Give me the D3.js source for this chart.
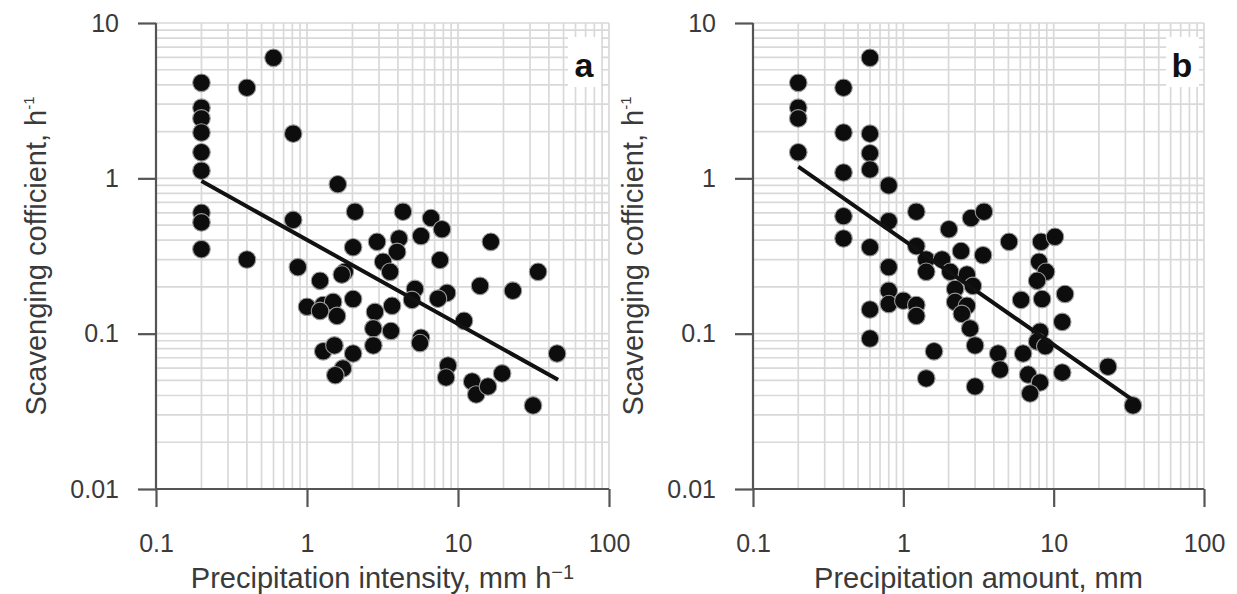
<!DOCTYPE html>
<html><head><meta charset="utf-8">
<script src="https://cdn.jsdelivr.net/npm/d3@7"></script>
<style>body{margin:0;background:#fff;}svg{display:block;font-family:"Liberation Sans",Arial,sans-serif;}</style>
</head><body>
<script>
// Panel a: precipitation intensity (mm h-1) vs scavenging coefficient (h-1)
const aX = [0.2,0.2,0.2,0.2,0.2,0.2,0.2,0.2,0.2,
  0.6,0.4,0.81,1.6,2.08,0.81,2.91,2.02,0.4,
  0.87,1.22,1.78,1.7,1.0,1.28,1.49,1.58,1.22,2.02,2.82,2.75,2.75,1.28,1.52,2.02,1.73,1.54,
  4.32,6.63,7.83,4.07,5.69,16.5,3.95,3.19,3.55,7.6,33.9,14.0,23.1,5.19,4.96,8.46,7.37,3.66,3.6,5.69,5.6,10.96,45.3,8.59,8.33,12.4,13.2,15.8,19.6,31.4];
const aY = [4.12,2.85,2.43,1.97,1.47,1.12,0.6,0.52,0.35,
  5.97,3.83,1.94,0.916,0.61,0.54,0.39,0.36,0.30,
  0.268,0.219,0.25,0.24,0.149,0.153,0.16,0.13,0.14,0.167,0.138,0.108,0.084,0.077,0.084,0.0745,0.0597,0.054,
  0.61,0.555,0.47,0.41,0.425,0.39,0.336,0.29,0.25,0.298,0.25,0.203,0.189,0.194,0.165,0.183,0.168,0.151,0.104,0.094,0.087,0.121,0.0745,0.0624,0.0522,0.0492,0.0406,0.0457,0.0555,0.0345];
// Panel b: precipitation amount (mm) vs scavenging coefficient (h-1)
const bX = [0.2,0.2,0.2,0.2,
  0.4,0.4,0.4,0.4,0.4,
  0.6,0.6,0.6,0.6,0.6,0.6,0.6,
  0.8,0.8,0.8,0.8,0.8,
  1.22,1.22,1.0,1.22,1.22,
  1.42,1.42,1.81,2.05,2.01,2.42,2.65,2.21,2.21,2.65,2.45,2.78,3.0,1.6,1.42,3.0,
  2.82,3.44,5.05,8.24,10.2,3.39,2.9,
  8.0,8.9,7.76,6.07,8.37,11.9,11.4,8.12,7.76,8.8,4.27,6.26,4.4,6.76,8.12,6.97,11.4,23.0,33.7];
const bY = [4.12,2.85,2.43,1.47,
  3.83,1.97,1.09,0.57,0.41,
  5.97,1.94,1.45,1.14,0.36,0.143,0.093,
  0.90,0.53,0.268,0.189,0.155,
  0.61,0.366,0.163,0.153,0.130,
  0.30,0.25,0.30,0.25,0.47,0.34,0.24,0.194,0.16,0.151,0.134,0.108,0.084,0.077,0.0515,0.0457,
  0.555,0.61,0.39,0.39,0.42,0.32,0.203,
  0.29,0.25,0.219,0.165,0.167,0.18,0.119,0.103,0.089,0.083,0.0745,0.0745,0.0587,0.0545,0.0485,0.0412,0.0562,0.0613,0.0345];
// Fitted lines (end points)
const fitAX = [0.2, 46], fitAY = [0.96, 0.0505];
const fitBX = [0.2, 33.7], fitBY = [1.19, 0.0373];
const xTicks = [0.1, 1, 10, 100];
const xTickLabels = ["0.1", "1", "10", "100"];
const yTicks = [0.01, 0.1, 1, 10];
const yTickLabels = ["0.01", "0.1", "1", "10"];

const W = 1237, H = 594;
const svg = d3.select("body").append("svg").attr("width", W).attr("height", H);

function minorVals(lo, hi) {
  const out = [];
  for (let e = Math.log10(lo); e < Math.log10(hi); e++) {
    for (let k = 1; k <= 9; k++) out.push(k * Math.pow(10, e));
  }
  out.push(hi);
  return out;
}

function panel(o) {
  const x = d3.scaleLog().domain([0.1, 100]).range([o.x0, o.x1]);
  const y = d3.scaleLog().domain([0.01, 10]).range([489, 23]);
  const g = svg.append("g");
  const grid = g.append("g").attr("stroke", "#d9d9d9").attr("stroke-width", 1.7);
  minorVals(0.1, 100).forEach(v => {
    grid.append("line").attr("x1", x(v)).attr("x2", x(v)).attr("y1", y(10)).attr("y2", y(0.01));
  });
  minorVals(0.01, 10).forEach(v => {
    grid.append("line").attr("x1", x(0.1)).attr("x2", x(100)).attr("y1", y(v)).attr("y2", y(v));
  });
  // label box
  g.append("rect").attr("x", o.lx - 16).attr("y", 37).attr("width", 33).attr("height", 50).attr("fill", "#fff");
  g.append("text").attr("x", o.lx).attr("y", 77).attr("text-anchor", "middle")
    .attr("font-size", 34).attr("font-weight", "bold").attr("fill", "#111").text(o.label);

  // axes
  const xAxis = d3.axisBottom(x).tickValues(xTicks).tickFormat((d, i) => xTickLabels[i]).tickSize(18).tickPadding(27);
  const gx = g.append("g").attr("transform", "translate(0,489)").call(xAxis);
  const yAxis = d3.axisLeft(y).tickValues(yTicks).tickFormat((d, i) => yTickLabels[i]).tickSize(18).tickPadding(19);
  const gy = g.append("g").attr("transform", `translate(${o.x0},0)`).call(yAxis);
  [gx, gy].forEach(a => {
    a.select(".domain").attr("stroke", "#555").attr("stroke-width", 2.2);
    a.selectAll(".tick line").attr("stroke", "#555").attr("stroke-width", 2.2);
    a.selectAll(".tick text").attr("font-size", 25).attr("fill", "#3a3a3a")
      .attr("font-family", "'Liberation Sans',Arial,sans-serif");
  });
  gx.select(".domain").attr("d", `M${o.x0},0H${o.x1}`);
  gy.select(".domain").attr("d", `M0,${y(0.01)}V${y(10)}`);

  // titles
  const xt = g.append("text").attr("x", (o.x0 + o.x1) / 2).attr("y", 588).attr("text-anchor", "middle")
    .attr("font-size", 29).attr("fill", "#3a3a3a").text(o.xtitle);
  if (o.xsup) xt.append("tspan").attr("font-size", 20).attr("dy", -9).text(o.xsup);
  const yt = g.append("text").attr("transform", `translate(${o.x0 - 110},${(y(10) + y(0.01)) / 2}) rotate(-90)`)
    .attr("text-anchor", "middle").attr("font-size", 29).attr("fill", "#3a3a3a").text("Scavenging cofficient, h");
  yt.append("tspan").attr("font-size", 15).attr("dy", -12).text("-1");

  // points
  g.append("g").selectAll("circle").data(o.xs.map((v, i) => [v, o.ys[i]])).join("circle")
    .attr("cx", d => x(d[0])).attr("cy", d => y(d[1])).attr("r", 8.8)
    .attr("fill", "#0d0d0d").attr("stroke", "#9a9a9a").attr("stroke-width", 1.1);

  // fit line
  const line = d3.line().x(d => x(d[0])).y(d => y(d[1]));
  g.append("path").datum(o.fx.map((v, i) => [v, o.fy[i]])).attr("d", line)
    .attr("stroke", "#111").attr("stroke-width", 4).attr("fill", "none");
}

panel({x0: 156, x1: 609, lx: 584, label: "a", xtitle: "Precipitation intensity, mm h", xsup: "−1",
  xs: aX, ys: aY, fx: fitAX, fy: fitAY});
panel({x0: 753, x1: 1204, lx: 1182, label: "b", xtitle: "Precipitation amount, mm", xsup: null,
  xs: bX, ys: bY, fx: fitBX, fy: fitBY});
</script>
</body></html>
